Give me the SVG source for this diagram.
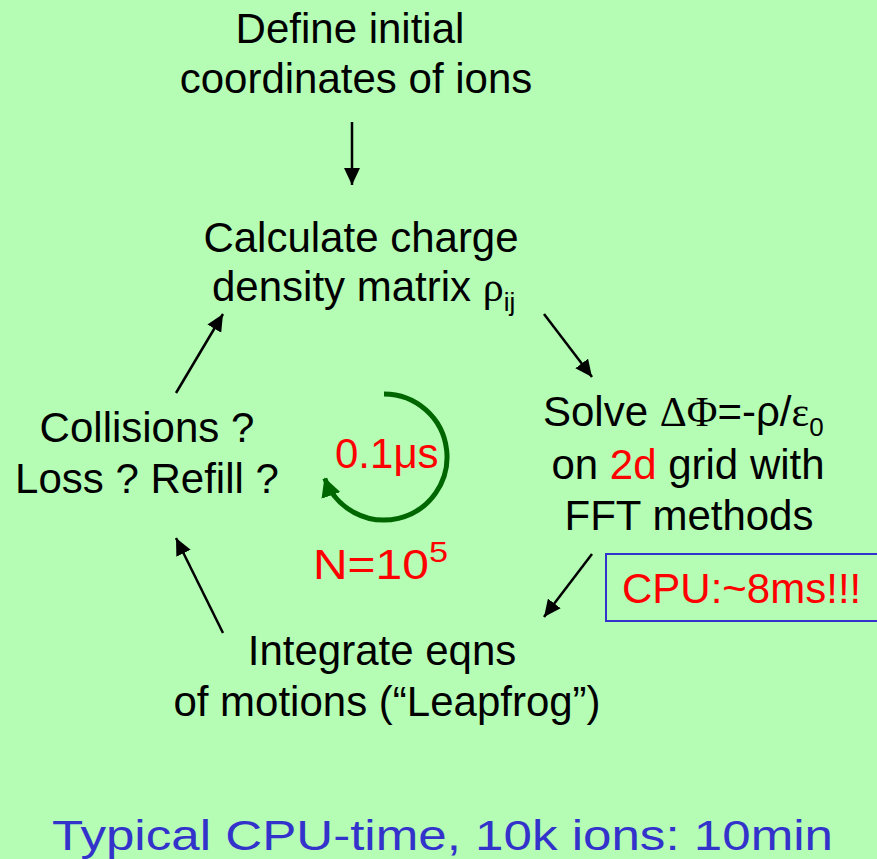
<svg xmlns="http://www.w3.org/2000/svg" width="877" height="859" viewBox="0 0 877 859">
<defs>
<style>
text{font-family:"Liberation Sans",Arial,sans-serif;font-size:42px;fill:#000}
.c{text-anchor:middle}
.sym{font-family:"Liberation Serif","Times New Roman",serif}
.red{fill:#ff0000}
.blue{fill:#3333cc}
.conn{stroke:#000;stroke-width:2.5;fill:none;marker-end:url(#ah)}
</style>
<marker id="ah" markerUnits="userSpaceOnUse" markerWidth="18" markerHeight="16" refX="17" refY="8" orient="auto">
<path d="M0,0 L17,8 L0,16 z" fill="#000"/>
</marker>
<marker id="gh" markerUnits="userSpaceOnUse" markerWidth="20" markerHeight="20" refX="18" refY="10" orient="auto">
<path d="M0,0 L19,10 L0,20 z" fill="#006600"/>
</marker>
</defs>
<rect width="877" height="859" fill="#b5fdb5"/>
<g id="connectors">
<line class="conn" x1="352" y1="122" x2="352" y2="185"/>
<line class="conn" x1="544" y1="314" x2="592" y2="377"/>
<line class="conn" x1="592" y1="554" x2="544" y2="617"/>
<line class="conn" x1="223" y1="633" x2="176" y2="538"/>
<line class="conn" x1="176" y1="393" x2="223" y2="314"/>
</g>
<g id="cycle">
<path d="M 384 394 A 63 63 0 1 1 324.8 478.5" fill="none" stroke="#006600" stroke-width="5" marker-end="url(#gh)"/>
<text class="red" x="335" y="468">0.1μs</text>
</g>
<g id="define">
<text class="c" x="350" y="43">Define initial</text>
<text class="c" x="356" y="93">coordinates of ions</text>
</g>
<g id="charge">
<text class="c" x="361" y="252">Calculate charge</text>
<text x="212" y="301">density matrix <tspan class="sym">ρ</tspan><tspan font-size="26" dy="10">ij</tspan></text>
</g>
<g id="solve">
<text x="543" y="426">Solve <tspan class="sym">ΔΦ</tspan>=-ρ/<tspan class="sym">ε</tspan><tspan font-size="26" dy="10">0</tspan></text>
<text class="c" x="688" y="479">on <tspan class="red">2d</tspan> grid with</text>
<text class="c" x="689" y="530">FFT methods</text>
</g>
<g id="cpu">
<rect x="606" y="554" width="272" height="67" fill="none" stroke="#3333cc" stroke-width="2"/>
<text class="red" x="622" y="603">CPU:~8ms!!!</text>
</g>
<g id="integrate">
<text class="c" x="382" y="665" font-size="43">Integrate eqns</text>
<text class="c" x="387" y="716" font-size="43">of motions (“Leapfrog”)</text>
</g>
<g id="collisions">
<text class="c" x="147" y="442" font-size="40">Collisions ?</text>
<text class="c" x="147" y="493" font-size="40">Loss ? Refill ?</text>
</g>
<g id="n">
<text class="red" x="313" y="579" font-size="52" textLength="135" lengthAdjust="spacingAndGlyphs">N=10<tspan font-size="30" dy="-17">5</tspan></text>
</g>
<g id="footer">
<text class="blue" x="52" y="850" font-size="57" textLength="781" lengthAdjust="spacingAndGlyphs">Typical CPU-time, 10k ions: 10min</text>
</g>
</svg>
